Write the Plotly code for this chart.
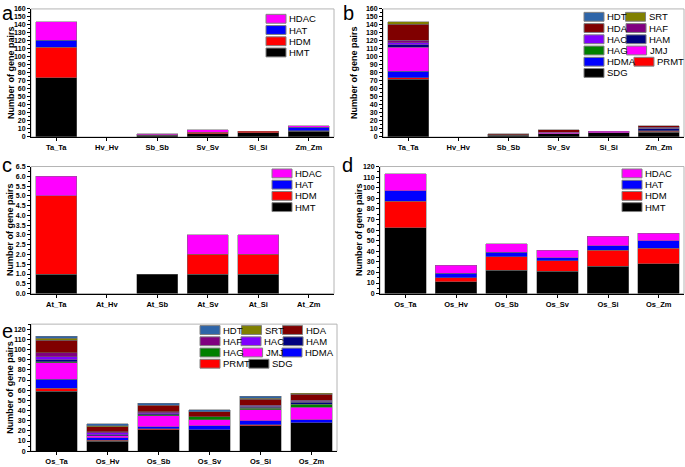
import plotly.graph_objects as go

FONT = "Arial, Liberation Sans, sans-serif"
W, H = 685, 467

# ---------------------------------------------------------------- data
grp_names = ["HMT", "HDM", "HAT", "HDAC"]
grp_colors = ["#000000", "#ff0000", "#0000ff", "#ff00ff"]

fam_names = ["SDG", "PRMT", "HDMA", "JMJ", "HAG", "HAM", "HAC", "HAF", "HDA", "SRT", "HDT"]
fam_colors = ["#000000", "#ff0000", "#0000ff", "#ff00ff", "#008000", "#000080",
              "#8000ff", "#800080", "#800000", "#808000", "#2f65a8"]

cats_a = ["Ta_Ta", "Hv_Hv", "Sb_Sb", "Sv_Sv", "Si_Si", "Zm_Zm"]
cats_c = ["At_Ta", "At_Hv", "At_Sb", "At_Sv", "At_Si", "At_Zm"]
cats_d = ["Os_Ta", "Os_Hv", "Os_Sb", "Os_Sv", "Os_Si", "Os_Zm"]

# a : grass pairs, by group
a_hmt = [74, 0, 2, 4, 5, 7]
a_hdm = [38, 0, 1, 2, 2, 1]
a_hat = [9, 0, 0, 0, 0, 4]
a_hdac = [23, 0, 1, 3, 0, 2]

# b : grass pairs, by family
b_sdg = [72, 0, 2, 4, 5, 6]
b_prmt = [2, 0, 0, 0, 0, 1]
b_hdma = [8, 0, 0, 0, 0, 0]
b_jmj = [30, 0, 1, 2, 2, 1]
b_hag = [0, 0, 0, 0, 0, 0]
b_ham = [3, 0, 0, 0, 0, 2]
b_hac = [3, 0, 0, 0, 0, 1]
b_haf = [3, 0, 0, 0, 0, 1]
b_hda = [20, 0, 1, 3, 0, 2]
b_srt = [3, 0, 0, 0, 0, 0]
b_hdt = [0, 0, 0, 0, 0, 0]

# c : Arabidopsis pairs
c_hmt = [1, 0, 1, 1, 1, 0]
c_hdm = [4, 0, 0, 1, 1, 0]
c_hat = [0, 0, 0, 0, 0, 0]
c_hdac = [1, 0, 0, 1, 1, 0]

# d : rice pairs, by group
d_hmt = [62, 11, 22, 21, 26, 28]
d_hdm = [25, 4, 13, 10, 15, 15]
d_hat = [10, 4, 4, 3, 4, 7]
d_hdac = [16, 8, 8, 7, 9, 7]

# e : rice pairs, by family
e_sdg = [59, 10, 21, 21, 25, 28]
e_prmt = [3, 1, 1, 0, 1, 0]
e_hdma = [9, 2, 2, 4, 4, 3]
e_jmj = [16, 2, 11, 6, 11, 12]
e_hag = [1, 0, 1, 3, 1, 3]
e_ham = [2, 1, 1, 0, 1, 2]
e_hac = [3, 2, 1, 0, 1, 1]
e_haf = [4, 1, 1, 0, 1, 1]
e_hda = [12, 5, 6, 5, 6, 6]
e_srt = [2, 1, 0, 0, 1, 1]
e_hdt = [2, 2, 2, 2, 2, 0]

# approx Arial glyph widths (em) used to flow legend entries like Origin does
GLYPH = {"A": .667, "C": .722, "D": .722, "F": .611, "G": .778, "H": .722,
         "J": .5, "M": .833, "P": .667, "R": .722, "S": .667, "T": .611}
LEG_FS = 9.5

panels = [
    dict(letter="a", cats=cats_a, names=grp_names, colors=grp_colors,
         series=[a_hmt, a_hdm, a_hat, a_hdac],
         box=(31, 334, 5, 135), yr=[0, 160], dtick=10, minor=5, fmt="",
         tx=11, lx=266, ly=15, ncol=1, let=(0, 9)),
    dict(letter="b", cats=cats_a, names=fam_names, colors=fam_colors,
         series=[b_sdg, b_prmt, b_hdma, b_jmj, b_hag, b_ham, b_hac, b_haf, b_hda, b_srt, b_hdt],
         box=(383, 684, 5, 135), yr=[0, 160], dtick=10, minor=5, fmt="",
         tx=354, lx=584, ly=13, ncol=2, let=(341, 9)),
    dict(letter="c", cats=cats_c, names=grp_names, colors=grp_colors,
         series=[c_hmt, c_hdm, c_hat, c_hdac],
         box=(31, 334, 165, 294), yr=[0, 6.5], dtick=0.5, minor=0.25, fmt=".1f",
         tx=10, lx=272, ly=172, ncol=1, let=(0, 163)),
    dict(letter="d", cats=cats_d, names=grp_names, colors=grp_colors,
         series=[d_hmt, d_hdm, d_hat, d_hdac],
         box=(380, 684, 165, 294), yr=[0, 120], dtick=10, minor=5, fmt="",
         tx=359, lx=622, ly=172, ncol=1, let=(340, 163)),
    dict(letter="e", cats=cats_d, names=fam_names, colors=fam_colors,
         series=[e_sdg, e_prmt, e_hdma, e_jmj, e_hag, e_ham, e_hac, e_haf, e_hda, e_srt, e_hdt],
         box=(31, 337, 325, 454), yr=[0, 125], dtick=10, minor=5, fmt="",
         tx=10, lx=200, ly=331, ncol=3, let=(0, 332)),
]

fig = go.Figure()
shapes = []
annotations = []

for i, p in enumerate(panels, start=1):
    sfx = "" if i == 1 else str(i)
    for vals, name, col in zip(p["series"], p["names"], p["colors"]):
        fig.add_trace(go.Bar(
            x=p["cats"], y=[v if v else None for v in vals], name=name, showlegend=False,
            marker=dict(color=col, line=dict(color="#707070", width=0.5)),
            xaxis="x" + sfx, yaxis="y" + sfx,
        ))

    x0, x1, y0, y1 = p["box"]
    fig.update_layout({
        "xaxis" + sfx: dict(
            domain=[x0 / W, x1 / W], anchor="y" + sfx,
            showline=True, linecolor="black", linewidth=1,
            ticks="outside", ticklen=3, tickcolor="black",
            tickfont=dict(family=FONT, size=7.5, color="black", weight="bold"),
            showgrid=False, zeroline=False, fixedrange=True,
        ),
        "yaxis" + sfx: dict(
            domain=[1 - y1 / H, 1 - y0 / H], anchor="x" + sfx,
            range=p["yr"], dtick=p["dtick"], tickformat=p["fmt"],
            showline=True, linecolor="black", linewidth=1,
            ticks="outside", ticklen=3, tickcolor="black",
            minor=dict(dtick=p["minor"], ticks="outside", ticklen=2, tickcolor="black"),
            tickfont=dict(family=FONT, size=7, color="black", weight="bold"),
            showgrid=False, zeroline=False, fixedrange=True,
        ),
    })

    # light grey frame around the plot area
    shapes.append(dict(type="rect", xref=f"x{sfx} domain", yref=f"y{sfx} domain",
                       x0=0, x1=1, y0=0, y1=1, layer="below",
                       line=dict(color="#b4b4b4", width=1)))

    # y title
    annotations.append(dict(text="Number of gene pairs", textangle=-90,
                            x=p["tx"] / W, y=1 - (y0 + y1) / 2 / H,
                            xref="paper", yref="paper", showarrow=False,
                            xanchor="center", yanchor="middle",
                            font=dict(family=FONT, size=9, color="black", weight="bold")))
    # panel letter
    annotations.append(dict(text=p["letter"], x=p["let"][0] / W, y=1 - p["let"][1] / H,
                            xref="paper", yref="paper", showarrow=False,
                            xanchor="left", yanchor="middle",
                            font=dict(family=FONT, size=20, color="black")))

    # legend, reverse stacking order, flowed in rows
    items = list(zip(p["names"], p["colors"]))[::-1]
    pitch = 11.4
    for r in range(0, len(items), p["ncol"]):
        cx = p["lx"]
        cy = p["ly"] + (r // p["ncol"]) * pitch
        for name, col in items[r:r + p["ncol"]]:
            shapes.append(dict(type="rect", xref="paper", yref="paper",
                               x0=cx / W, x1=(cx + 20) / W,
                               y0=1 - (cy + 4.5) / H, y1=1 - (cy - 4.5) / H,
                               fillcolor=col, line=dict(color="#808080", width=1)))
            annotations.append(dict(text=name, x=(cx + 22) / W, y=1 - cy / H,
                                    xref="paper", yref="paper", showarrow=False,
                                    xanchor="left", yanchor="middle", borderpad=0,
                                    font=dict(family=FONT, size=LEG_FS, color="black")))
            cx = cx + 22 + LEG_FS * sum(GLYPH.get(ch, .65) for ch in name)

fig.update_layout(
    width=W, height=H,
    margin=dict(l=0, r=0, t=0, b=0),
    barmode="stack", bargap=0.18,
    plot_bgcolor="white", paper_bgcolor="white",
    font=dict(family=FONT, color="black"),
    shapes=shapes, annotations=annotations,
    showlegend=False, hovermode=False,
)

fig.write_html("out.html", config={"displayModeBar": False},
               post_script="document.body.style.margin='0';")
